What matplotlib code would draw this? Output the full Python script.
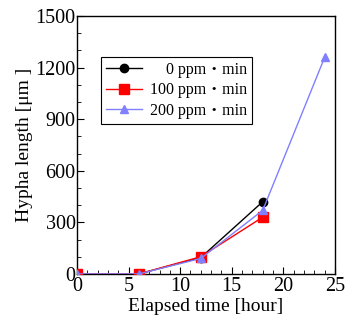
import matplotlib
matplotlib.use("Agg")
import matplotlib.pyplot as plt
from matplotlib.ticker import MultipleLocator

times_a = [0, 6, 12, 18]
len_0ppm = [0, 0, 95, 420]
len_100ppm = [0, 0, 100, 330]
times_c = [0, 6, 12, 18, 24]
len_200ppm = [0, 0, 90, 370, 1260]
labels = ["    0 ppm・min", "100 ppm・min", "200 ppm・min"]

plt.rcParams['font.family'] = ['Liberation Serif', 'Noto Sans CJK JP']

fig = plt.figure(figsize=(3.45, 3.2), dpi=100)
ax = fig.add_axes([0.223, 0.144, 0.748, 0.806])

ax.plot(times_a, len_0ppm, color='black', marker='o', markersize=6, lw=1.0, label=labels[0], zorder=3)
ax.plot(times_a, len_100ppm, color='red', marker='s', markersize=6.5, lw=1.0, label=labels[1], zorder=4)
ax.plot(times_c, len_200ppm, color='#8080ff', marker='^', markersize=6, lw=1.0, label=labels[2], zorder=5)

ax.set_xlim(0, 25)
ax.set_ylim(0, 1500)
ax.xaxis.set_major_locator(MultipleLocator(5))
ax.xaxis.set_minor_locator(MultipleLocator(1))
ax.yaxis.set_major_locator(MultipleLocator(300))
ax.yaxis.set_minor_locator(MultipleLocator(100))
ax.tick_params(which='both', direction='in', top=False, right=False, labelsize=14.5)
ax.tick_params(which='major', length=5)
ax.tick_params(which='minor', length=3)
ax.tick_params(axis='x', pad=2)
ax.tick_params(axis='y', pad=1)
for s in ax.spines.values():
    s.set_linewidth(1.0)

ax.set_xlabel("Elapsed time [hour]", fontsize=14, labelpad=2)
ax.set_ylabel("Hypha length [μm ]", fontsize=14, labelpad=2)

leg = ax.legend(loc='upper left', bbox_to_anchor=(0.093, 0.841), borderaxespad=0,
                fontsize=11.5, frameon=True, fancybox=False, edgecolor='black',
                handlelength=2.3, handletextpad=0.5, borderpad=0.3,
                labelspacing=0.28, framealpha=1)
leg.get_frame().set_linewidth(0.8)

fig.savefig("out.png", dpi=100)
